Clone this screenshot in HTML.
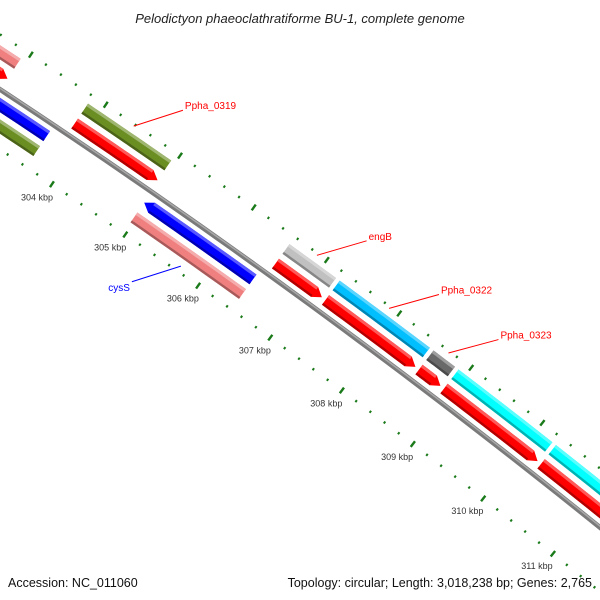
<!DOCTYPE html>
<html><head><meta charset="utf-8">
<style>
html,body{margin:0;padding:0;background:#fff;}
svg{display:block;font-family:"Liberation Sans",sans-serif;}
</style></head>
<body>
<svg id="map" width="600" height="600" viewBox="0 0 600 600" xmlns="http://www.w3.org/2000/svg">
<rect width="600" height="600" fill="#fff"/>
<text x="300" y="23" text-anchor="middle" font-size="13" font-style="italic" fill="#222">Pelodictyon phaeoclathratiforme BU-1, complete genome</text>
<g id="ticks"></g>
<g id="backbone"></g>
<g id="features"></g>
<g id="labels"></g>
<text x="8" y="587" font-size="12.5" fill="#111">Accession: NC_011060</text>
<text x="592" y="587" text-anchor="end" font-size="12.5" fill="#111">Topology: circular; Length: 3,018,238 bp; Genes: 2,765</text>
</svg>
<script>
// data
const featStart = [301.5, 303.83, 301.5, 304.97, 306.56, 307.25, 308.55, 308.90, 310.27];
const featEnd   = [302.93, 304.95, 303.65, 306.46, 307.20, 308.50, 308.85, 310.22, 312.5];
const featStrand= [1, 1, -1, -1, 1, 1, 1, 1, 1];
const featCog   = ['#f08080','#6b8e23','#6b8e23','#f08080','#c0c0c0','#00bfff','#696969','#00ffff','#00ffff'];
const featName  = ['', 'Ppha_0319', '', 'cysS', 'engB', 'Ppha_0322', 'Ppha_0323', '', ''];
const tickLabels = ['302 kbp','303 kbp','304 kbp','305 kbp','306 kbp','307 kbp','308 kbp','309 kbp','310 kbp','311 kbp','312 kbp'];
const tickKbp = [302,303,304,305,306,307,308,309,310,311,312];

// geometry (axis functions)
const CX=-4273, CY=6573, R0=7765, TH0=-0.9757, DK=0.01153;
const NS='http://www.w3.org/2000/svg';
function th(k){return TH0+(k-304)*DK;}
function pt(k,r){const t=th(k);return [CX+r*Math.cos(t), CY+r*Math.sin(t)];}
function mk(tag,attrs,parent){const e=document.createElementNS(NS,tag);for(const a in attrs)e.setAttribute(a,attrs[a]);parent.appendChild(e);return e;}
function arcPts(a,b,r,n){const p=[];for(let i=0;i<=n;i++){p.push(pt(a+(b-a)*i/n,r));}return p;}
function poly(pts){return pts.map(p=>p[0].toFixed(2)+','+p[1].toFixed(2)).join(' ');}

// ticks
const tg=document.getElementById('ticks');
for(let i=0;i<tickKbp.length-1;i++){
  for(let j=0;j<5;j++){
    const k=tickKbp[i]+j*0.2, major=(j===0);
    const len=major?7:2.5;
    [[R0-50,-1],[R0+46,1]].forEach(([r])=>{
      const p1=pt(k,r-len/2), p2=pt(k,r+len/2);
      const l=mk('line',{x1:p1[0],y1:p1[1],x2:p2[0],y2:p2[1],stroke:'#1a7a1a','stroke-width':major?2.4:2},tg);
      
      
    });
  }
}
tickKbp.forEach((k,i)=>{
  const p=pt(k,R0-66);
  const t=mk('text',{x:p[0]-6,y:p[1]+3,'text-anchor':'middle','font-size':'9',fill:'#333'},tg);
  t.textContent=tickLabels[i];
  
  
});

// backbone
const bg=document.getElementById('backbone');
const bp=arcPts(300,313,R0,60);
const b1=mk('polyline',{points:poly(bp),fill:'none',stroke:'#7a7a7a','stroke-width':5},bg);


const b2=mk('polyline',{points:poly(arcPts(300,313,R0+1,60)),fill:'none',stroke:'#a8a8a8','stroke-width':1.5},bg);



// features
const fg=document.getElementById('features');
const W=12, HEAD=0.1;
function shade(c,f){const n=parseInt(c.slice(1),16);let r=n>>16,g=(n>>8)&255,b=n&255;
  const m=v=>Math.max(0,Math.min(255,Math.round(f>0?v+(255-v)*f:v*(1+f))));
  return 'rgb('+m(r)+','+m(g)+','+m(b)+')';}
function drawBar(a,b,rc,color,arrow,name){
  const ro=rc+W/2, ri=rc-W/2;
  let pts;
  if(arrow===1){pts=arcPts(a,b-HEAD,ro,12).concat([pt(b,rc)]).concat(arcPts(b-HEAD,a,ri,12));}
  else if(arrow===-1){pts=[pt(a,rc)].concat(arcPts(a+HEAD,b,ro,12)).concat(arcPts(b,a+HEAD,ri,12));}
  else{pts=arcPts(a,b,ro,12).concat(arcPts(b,a,ri,12));}
  const p=mk('polygon',{points:poly(pts),fill:color},fg);
  
  
  const hi=mk('polyline',{points:poly(arcPts(a+(arrow===-1?HEAD:0),b-(arrow===1?HEAD:0),ro-1.5,12)),fill:'none',stroke:shade(color,0.35),'stroke-width':3},fg);
  
  
  const lo=mk('polyline',{points:poly(arcPts(a+(arrow===-1?HEAD:0),b-(arrow===1?HEAD:0),ri+1.2,12)),fill:'none',stroke:shade(color,-0.3),'stroke-width':2.4},fg);
  
  
}
for(let i=0;i<featStart.length;i++){
  const s=featStrand[i];
  const geneR=R0+s*13, cogR=R0+s*31;
  drawBar(featStart[i],featEnd[i],geneR,s>0?'#ff0000':'#0000ff',s,'gene-arrow');
  drawBar(featStart[i],featEnd[i],cogR,featCog[i],0,'cog-bar');
}

// labels
const lg=document.getElementById('labels');
featName.forEach((n,i)=>{
  if(!n)return;
  const s=featStrand[i], mid=(featStart[i]+featEnd[i])/2;
  const color=s>0?'#ff0000':'#0000ff';
  const r1=s>0?R0+44:R0-44, r2=s>0?R0+85:R0-85;
  const p1=pt(mid,r1), p2=pt(mid+(s>0?0.35:-0.35),r2);
  const l=mk('line',{x1:p1[0],y1:p1[1],x2:p2[0],y2:p2[1],stroke:color,'stroke-width':1},lg);
  
  
  const t=mk('text',{x:s>0?p2[0]+2:p2[0]-2,y:s>0?p2[1]-1:p2[1]+9,'text-anchor':s>0?'start':'end','font-size':'10',fill:color},lg);
  t.textContent=n;
  
  
});
</script>
</body></html>
